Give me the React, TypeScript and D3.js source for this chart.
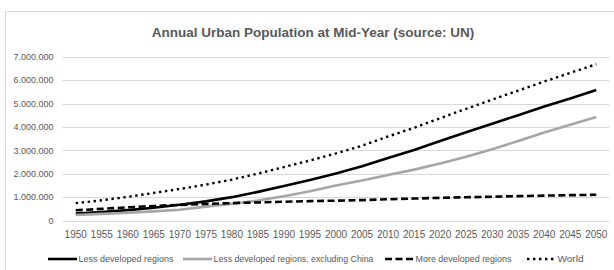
import * as d3 from 'd3';

const WIDTH = 614;
const HEIGHT = 270;

const years = [
  1950, 1955, 1960, 1965, 1970, 1975, 1980, 1985, 1990, 1995, 2000, 2005,
  2010, 2015, 2020, 2025, 2030, 2035, 2040, 2045, 2050,
];

// urban population, thousands
const lessDeveloped = [
  305, 365, 450, 555, 680, 825, 1005, 1230, 1480, 1735, 2015, 2320, 2680,
  3020, 3400, 3775, 4140, 4505, 4870, 5220, 5575,
];
const lessDevExChina = [
  245, 290, 340, 400, 470, 600, 720, 860, 1040, 1260, 1500, 1720, 1950, 2180,
  2440, 2730, 3050, 3400, 3760, 4100, 4430,
];
const moreDeveloped = [
  445, 505, 570, 630, 675, 715, 750, 780, 810, 835, 855, 880, 915, 945, 975,
  1000, 1025, 1050, 1070, 1090, 1105,
];
const world = [
  750, 870, 1020, 1185, 1355, 1540, 1755, 2010, 2290, 2570, 2870, 3200, 3595,
  3965, 4375, 4775, 5165, 5555, 5940, 6310, 6680,
];

const yTicks = [0, 1000000, 2000000, 3000000, 4000000, 5000000, 6000000, 7000000];

const seriesNames = [
  'Less developed regions',
  'Less developed regions, excluding China',
  'More developed regions',
  'World',
];

const styles = [
  { color: '#000000', width: 2.6, dash: null },
  { color: '#a6a6a6', width: 2.6, dash: null },
  { color: '#000000', width: 2.6, dash: '7,3.5' },
  { color: '#000000', width: 2.4, dash: '2.4,3.6' },
];

// legend item placement (sample start, text width)
const legendX = [48, 183, 385, 527];
const legendTextW = [95, 160, 96, 26];

const fmt = (v: number) => d3.format(',')(v).replace(/,/g, '.');

export default function App() {
  const left = 62.7;
  const right = 609.3;
  const top = 56.7;
  const bottom = 220.7;

  const x = d3.scaleBand<number>().domain(years).range([left, right]);
  const y = d3.scaleLinear().domain([0, 7000000]).range([bottom, top]);
  const cx = (yr: number) => (x(yr) ?? 0) + x.bandwidth() / 2;

  const line = d3
    .line<[number, number]>()
    .x((d) => cx(d[0]))
    .y((d) => y(d[1] * 1000));

  const all = [lessDeveloped, lessDevExChina, moreDeveloped, world];
  const font = "'Liberation Sans', Arial, sans-serif";

  return (
    <svg
      width={WIDTH}
      height={HEIGHT}
      style={{ position: 'absolute', left: 0, top: 0, background: '#fff' }}
      fontFamily={font}
    >
      <rect x={5.5} y={11.5} width={700} height={400} fill="#fff" stroke="#d9d9d9" />
      <text
        x={313}
        y={36.5}
        textAnchor="middle"
        fontSize={13.5}
        fontWeight={600}
        fill="#595959"
      >
        Annual Urban Population at Mid-Year (source: UN)
      </text>

      {yTicks.map((t) => (
        <g key={t}>
          <line
            x1={left}
            x2={right}
            y1={Math.round(y(t)) + 0.5}
            y2={Math.round(y(t)) + 0.5}
            stroke="#d9d9d9"
          />
          <text
            x={53.5}
            y={y(t)}
            dy="0.35em"
            textAnchor="end"
            fontSize={9}
            fill="#595959"
          >
            {fmt(t)}
          </text>
        </g>
      ))}

      {years.map((yr) => (
        <text
          key={yr}
          x={cx(yr)}
          y={237.8}
          textAnchor="middle"
          fontSize={10}
          fill="#595959"
        >
          {yr}
        </text>
      ))}

      {all.map((vals, i) => (
        <path
          key={seriesNames[i]}
          d={line(years.map((yr, j) => [yr, vals[j]])) ?? ''}
          fill="none"
          stroke={styles[i].color}
          strokeWidth={styles[i].width}
          strokeDasharray={styles[i].dash ?? undefined}
          strokeLinejoin="round"
        />
      ))}

      {seriesNames.map((name, i) => (
        <g key={name} transform={`translate(${legendX[i]},259)`}>
          <line
            x1={0}
            x2={29}
            y1={0}
            y2={0}
            stroke={styles[i].color}
            strokeWidth={styles[i].width}
            strokeDasharray={styles[i].dash ?? undefined}
          />
          <text
            x={30.5}
            y={0}
            dy="0.35em"
            fontSize={9.5}
            fill="#595959"
            textLength={legendTextW[i]}
            lengthAdjust="spacingAndGlyphs"
          >
            {name}
          </text>
        </g>
      ))}
    </svg>
  );
}
